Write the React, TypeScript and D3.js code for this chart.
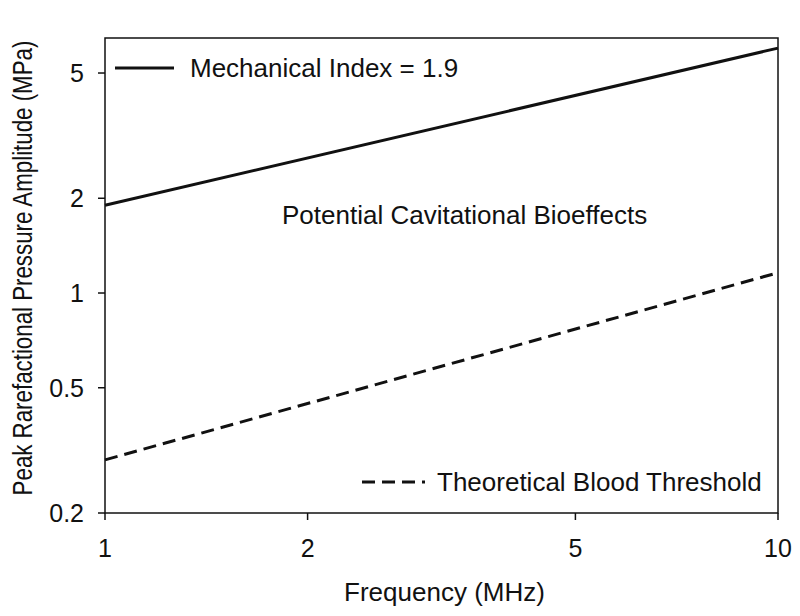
import React from "react";
import * as d3 from "d3";

const frequencies = [1, 10];
const mechanicalIndex = [1.9, 6.0];
const bloodThreshold = [0.295, 1.16];
const xTicks = [1, 2, 5, 10];
const yTicks = [0.2, 0.5, 1, 2, 5];

const W = 800;
const H = 616;
const M = { left: 105, right: 22, top: 38, bottom: 103 };
const FONT = "'Liberation Sans', Arial, Helvetica, sans-serif";
const INK = "#111";

export default function App() {
  const x = d3.scaleLog().domain([1, 10]).range([M.left, W - M.right]);
  const y = d3.scaleLog().domain([0.2, 6.46]).range([H - M.bottom, M.top]);
  const line = d3
    .line<number>()
    .x((_, i) => x(frequencies[i]))
    .y((d) => y(d));
  const x0 = x.range()[0];
  const x1 = x.range()[1];
  const y0 = y.range()[0];
  const y1 = y.range()[1];

  return (
    <svg
      width={W}
      height={H}
      style={{ position: "absolute", left: 0, top: 0, background: "#fff" }}
      fontFamily={FONT}
    >
      <rect x={0} y={0} width={W} height={H} fill="#fff" />
      {/* frame */}
      <rect x={x0} y={y1} width={x1 - x0} height={y0 - y1} fill="none" stroke={INK} strokeWidth={1.5} />
      {/* x ticks */}
      {xTicks.map((t) => (
        <g key={"x" + t}>
          <line x1={x(t)} x2={x(t)} y1={y0} y2={y0 + 7} stroke={INK} strokeWidth={1.5} />
          <text x={x(t)} y={557} textAnchor="middle" fontSize={25} fill={INK}>
            {t}
          </text>
        </g>
      ))}
      {/* y ticks */}
      {yTicks.map((t) => (
        <g key={"y" + t}>
          <line x1={x0 - 7} x2={x0} y1={y(t)} y2={y(t)} stroke={INK} strokeWidth={1.5} />
          <text x={84} y={y(t)} dy="0.35em" textAnchor="end" fontSize={25} fill={INK}>
            {t}
          </text>
        </g>
      ))}
      {/* data lines */}
      <path d={line(mechanicalIndex) || ""} fill="none" stroke={INK} strokeWidth={3} />
      <path
        d={line(bloodThreshold) || ""}
        fill="none"
        stroke={INK}
        strokeWidth={3}
        strokeDasharray="13,7"
      />
      {/* legends */}
      <line x1={115} x2={174} y1={68} y2={68} stroke={INK} strokeWidth={3} />
      <text x={190} y={77} fontSize={26} fill={INK}>
        Mechanical Index = 1.9
      </text>
      <line x1={362} x2={425} y1={482} y2={482} stroke={INK} strokeWidth={3} strokeDasharray="13,7" />
      <text x={437} y={491} fontSize={26} fill={INK}>
        Theoretical Blood Threshold
      </text>
      <text x={282} y={224} fontSize={26} fill={INK}>
        Potential Cavitational Bioeffects
      </text>
      {/* axis titles */}
      <text x={(x0 + x1) / 2 + 3} y={601} textAnchor="middle" fontSize={26} fill={INK}>
        Frequency (MHz)
      </text>
      <text
        transform={`translate(32,268) scale(1.2,1) rotate(-90)`}
        textAnchor="middle"
        fontSize={22.3}
        fill={INK}
      >
        Peak Rarefactional Pressure Amplitude (MPa)
      </text>
    </svg>
  );
}
